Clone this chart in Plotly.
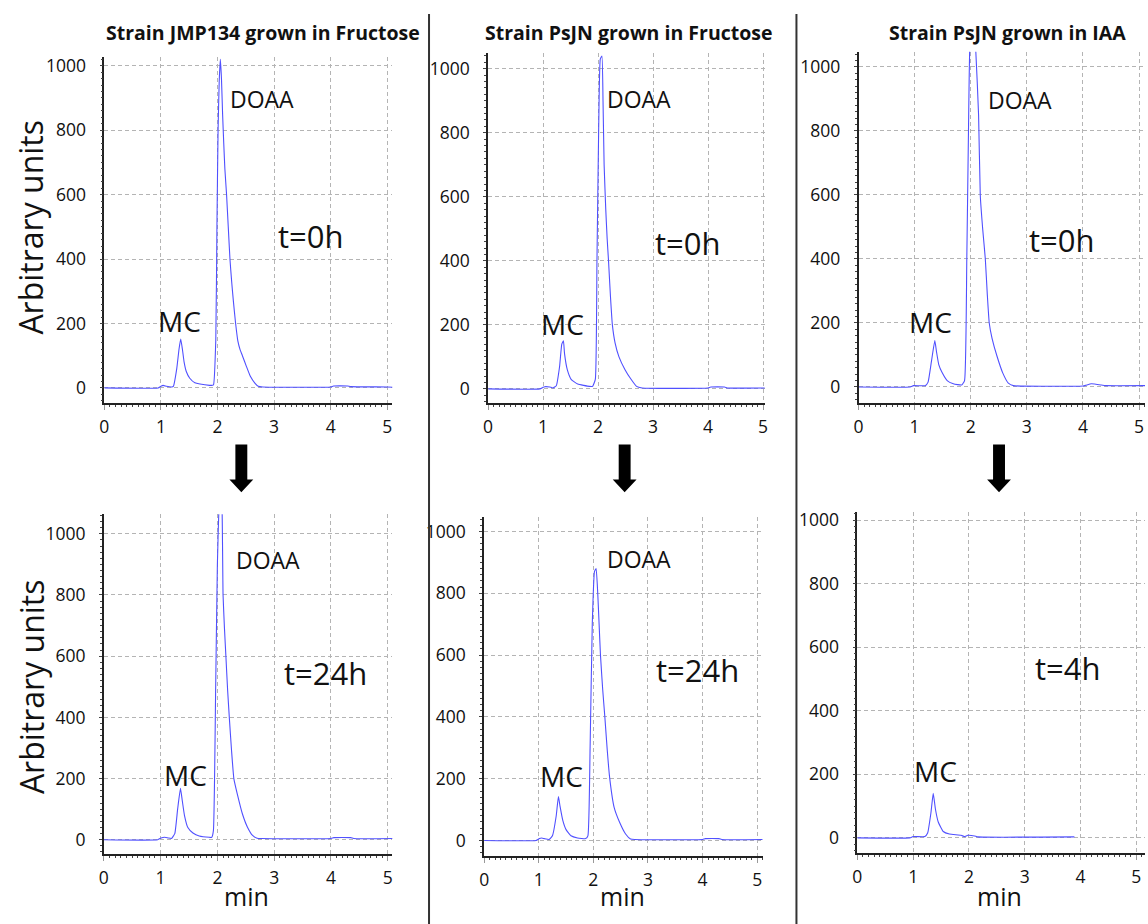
import plotly.graph_objects as go

W, H = 1148, 924

# ---------------- data (minutes, arbitrary units) ----------------
a_t = [0, 0.95, 1.0, 1.04, 1.10, 1.19, 1.22, 1.28, 1.32, 1.35, 1.38, 1.41, 1.45, 1.51, 1.60, 1.69, 1.86, 1.91,
       1.93, 1.97, 1.99, 2.01, 2.03, 2.05, 2.07, 2.09, 2.11, 2.13, 2.16, 2.19, 2.22, 2.25, 2.28, 2.32, 2.36, 2.40,
       2.44, 2.51, 2.58, 2.66, 2.72, 2.80, 4.0, 4.05, 4.3, 4.35, 5.0, 5.1]
a_v = [0, 0, 5, 8, 5, 3, 5, 60, 120, 152, 120, 80, 50, 30, 16, 12, 8, 8,
       10, 150, 500, 800, 950, 1020, 960, 850, 760, 680, 600, 500, 400, 330, 270, 200, 145, 118,
       100, 67, 36, 15, 5, 3, 3, 6, 6, 4, 3, 2]

b_t = [0, 0.94, 1.0, 1.03, 1.12, 1.18, 1.24, 1.30, 1.34, 1.37, 1.39, 1.44, 1.51, 1.63, 1.84, 1.90,
       1.95, 1.98, 2.01, 2.04, 2.07, 2.09, 2.11, 2.14, 2.165, 2.19, 2.225, 2.26, 2.31, 2.38, 2.49, 2.60, 2.70,
       2.80, 4.0, 4.05, 4.3, 4.35, 5.1]
b_v = [0, 0, 5, 7, 6, 3, 10, 70, 140, 150, 110, 60, 30, 15, 8, 8,
       30, 400, 800, 1030, 1040, 900, 700, 560, 470, 400, 290, 200, 143, 100, 60, 30, 8,
       3, 3, 6, 6, 3, 3]

c_t = [0, 0.92, 0.98, 1.19, 1.24, 1.30, 1.36, 1.39, 1.43, 1.49, 1.58, 1.69, 1.84,
       1.89, 1.93, 1.96, 1.99, 2.04, 2.09, 2.14, 2.17, 2.215, 2.26, 2.295, 2.33, 2.38, 2.47, 2.57, 2.67, 2.76,
       4.0, 4.05, 4.15, 4.33, 4.4, 5.12]
c_v = [0, 0, 4, 4, 15, 80, 145, 110, 70, 45, 20, 10, 6,
       20, 400, 800, 1100, 1150, 1050, 850, 600, 490, 400, 290, 200, 152, 95, 44, 12, 4,
       3, 5, 10, 6, 4, 4]

d_t = [0, 0.95, 1.01, 1.07, 1.13, 1.19, 1.25, 1.30, 1.35, 1.38, 1.42, 1.48, 1.57, 1.68, 1.86, 1.90,
       1.93, 1.97, 2.00, 2.03, 2.05, 2.08, 2.10, 2.125, 2.15, 2.18, 2.21, 2.25, 2.29, 2.35, 2.44, 2.53, 2.62, 2.70,
       2.78, 4.0, 4.05, 4.35, 4.4, 5.1]
d_v = [0, 0, 6, 8, 6, 4, 20, 100, 168, 130, 80, 40, 22, 12, 8, 8,
       30, 500, 900, 1100, 1150, 1100, 800, 690, 600, 490, 400, 290, 200, 150, 85, 41, 14, 5,
       4, 4, 7, 7, 4, 4]

e_t = [0, 0.95, 1.01, 1.05, 1.10, 1.19, 1.25, 1.32, 1.36, 1.39, 1.44, 1.50, 1.59, 1.71, 1.86,
       1.90, 1.94, 1.98, 2.02, 2.05, 2.08, 2.105, 2.13, 2.17, 2.21, 2.255, 2.30, 2.38, 2.48, 2.59, 2.68,
       2.76, 4.0, 4.05, 4.3, 4.35, 5.1]
e_v = [0, 0, 6, 8, 6, 3, 15, 80, 142, 110, 65, 35, 15, 8, 6,
       15, 300, 700, 870, 880, 800, 700, 600, 490, 400, 290, 200, 107, 59, 21, 5,
       3, 3, 6, 6, 3, 3]

f_t = [0, 0.94, 1.0, 1.21, 1.26, 1.32, 1.36, 1.40, 1.45, 1.54, 1.65, 1.86, 1.92, 1.98, 2.10, 2.16, 3.89]
f_v = [0, 0, 4, 4, 15, 80, 140, 90, 50, 20, 12, 8, 4, 8, 6, 3, 3]

titles = ["Strain JMP134 grown in Fructose", "Strain PsJN grown in Fructose", "Strain PsJN grown in IAA"]
times = ["t=0h", "t=0h", "t=0h", "t=24h", "t=24h", "t=4h"]
y_ticks = [0, 200, 400, 600, 800, 1000]
x_ticks = [0, 1, 2, 3, 4, 5]

series = [(a_t, a_v), (b_t, b_v), (c_t, c_v), (d_t, d_v), (e_t, e_v), (f_t, f_v)]

# ---------------- layout geometry (pixels) ----------------
# (x_left, x_right, y_top, y_bottom, x_range_max, y_min, y_max)
panels = [
    (100, 390, 52, 400, 5.088, -46.3, 1027.8),
    (486.5, 765, 48, 400, 5.03, -43.5, 1050),
    (859.5, 1148, 47, 400, 5.106, -49.7, 1047.6),
    (99.5, 390, 512, 854, 5.08, -47.8, 1064),
    (482.5, 763, 515, 856, 5.1, -51.5, 1046),
    (858.3, 1148, 510, 853, 5.155, -48.9, 1025),
]
# annotation positions in data coordinates
doaa_pos = [(2.79, 898), (2.74, 904), (2.88, 898), (2.89, 914), (2.84, 912), None]
mc_pos = [(1.33, 209), (1.36, 204), (1.28, 202), (1.44, 211), (1.41, 208), (1.40, 210)]
t_pos = [(3.65, 470), (3.64, 457), (3.62, 458), (3.91, 545), (3.90, 551), (3.78, 535)]

FONT = "Open Sans"
LINE = "#5050ff"
GRID = "#b4b4b4"

fig = go.Figure()
annotations = []
shapes = []


def label(**kw):
    kw.setdefault("showarrow", False)
    kw.setdefault("xanchor", "center")
    kw.setdefault("yanchor", "middle")
    annotations.append(kw)


for i, ((xl, xr, yt, yb, xmax, ymin, ymax), (t, v)) in enumerate(zip(panels, series)):
    n = "" if i == 0 else str(i + 1)
    fig.add_trace(go.Scatter(x=t, y=v, mode="lines", xaxis="x" + n, yaxis="y" + n,
                             line=dict(color=LINE, width=1.1, shape="spline", smoothing=0.4),
                             showlegend=False, hoverinfo="skip"))
    fig.layout["xaxis" + n] = dict(
        domain=[xl / W, xr / W], range=[0, xmax], anchor="y" + n,
        tickvals=x_ticks, ticks="outside", ticklen=5, tickcolor="#999",
        showline=True, linecolor="#222", linewidth=1.5,
        showgrid=True, gridcolor=GRID, griddash="4px,3px", gridwidth=1,
        zeroline=False, tickfont=dict(family=FONT, size=17.5, color="#111"),
        minor=dict(dtick=0.1, ticks="outside", ticklen=2, tickcolor="#444", showgrid=False),
        ticklabelstandoff=2, fixedrange=True)
    fig.layout["yaxis" + n] = dict(
        domain=[1 - yb / H, 1 - yt / H], range=[ymin, ymax], anchor="x" + n,
        tickvals=y_ticks, ticks="outside", ticklen=3, tickcolor="#444",
        showline=True, linecolor="#222", linewidth=1.5,
        showgrid=True, gridcolor=GRID, griddash="4px,3px", gridwidth=1,
        zeroline=False, tickfont=dict(family=FONT, size=17.5, color="#111"),
        minor=dict(dtick=20, ticks="outside", ticklen=2, tickcolor="#444", showgrid=False),
        ticklabelstandoff=10, fixedrange=True)
    xr_ = "x" + n
    yr_ = "y" + n
    if doaa_pos[i]:
        label(x=doaa_pos[i][0], y=doaa_pos[i][1], xref=xr_, yref=yr_, text="DOAA",
              font=dict(family=FONT, size=23, color="#111"))
    label(x=mc_pos[i][0], y=mc_pos[i][1], xref=xr_, yref=yr_, text="MC",
          font=dict(family=FONT, size=28, color="#111"))
    label(x=t_pos[i][0], y=t_pos[i][1], xref=xr_, yref=yr_, text=times[i],
          font=dict(family=FONT, size=31, color="#111"))

# column titles
for cx, txt in zip([259.5, 628, 1010], titles):
    label(x=cx / W, y=1 - 28 / H, xref="paper", yref="paper", text="<b>" + txt + "</b>",
          font=dict(family=FONT, size=19.5, color="#111"))

# y-axis titles
for cy in [223, 685]:
    label(x=26 / W, y=1 - cy / H, xref="paper", yref="paper", text="Arbitrary units",
          textangle=-90, font=dict(family=FONT, size=32, color="#111"))
# x-axis titles
for cx in [243, 622, 1001]:
    label(x=cx / W, y=1 - 896 / H, xref="paper", yref="paper", text="min",
          font=dict(family=FONT, size=25, color="#111"))

# column separators
for sx in [427, 797]:
    shapes.append(dict(type="line", xref="paper", yref="paper", x0=sx / W, x1=sx / W,
                       y0=0, y1=1 - 9 / H, line=dict(color="#333", width=2)))

# down arrows between rows
for ax in [238, 624, 1001]:
    pts = [(ax - 6, 442), (ax + 6, 442), (ax + 6, 477), (ax + 12, 477), (ax, 490),
           (ax - 12, 477), (ax - 6, 477)]
    path = "M " + " L ".join(f"{x / W:.5f},{1 - y / H:.5f}" for x, y in pts) + " Z"
    shapes.append(dict(type="path", xref="paper", yref="paper", path=path,
                       fillcolor="#000", line=dict(color="#000", width=0)))

fig.update_layout(width=W, height=H, margin=dict(l=0, r=0, t=0, b=0),
                  paper_bgcolor="white", plot_bgcolor="white",
                  annotations=annotations, shapes=shapes,
                  font=dict(family=FONT))

fig.write_html("out.html", config={"displayModeBar": False})
